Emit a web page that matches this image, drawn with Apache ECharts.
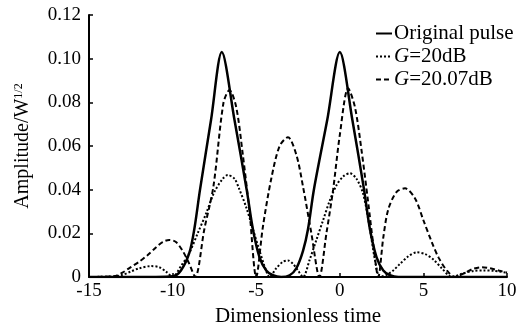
<!DOCTYPE html>
<html>
<head>
<meta charset="utf-8">
<script src="https://cdn.jsdelivr.net/npm/echarts@6/dist/echarts.min.js"></script>
<style>
  html, body { margin: 0; padding: 0; background: #fff; }
  #chart { width: 525px; height: 325px; }
</style>
</head>
<body>
<div id="chart"></div>
<script>
// x ticks / y ticks
const xTicks = [-15, -10, -5, 0, 5, 10];
const yTickLabels = ['0', '0.02', '0.04', '0.06', '0.08', '0.10', '0.12'];

// [dimensionless time, amplitude]
const originalPulse = [
  [-15, 0], [-11, 0], [-10, 0.0003], [-9.5, 0.003], [-9, 0.011], [-8.7, 0.022],
  [-8.36, 0.04], [-7.7, 0.072], [-7.06, 0.103], [-6.3, 0.072], [-5.57, 0.04],
  [-5.2, 0.022], [-4.8, 0.009], [-4.4, 0.003], [-4, 0.0008], [-3.5, 0],
  [-3, 0.0008], [-2.6, 0.004], [-2.2, 0.012], [-1.9, 0.022], [-1.55, 0.04],
  [-0.75, 0.072], [0, 0.103], [0.75, 0.072], [1.45, 0.04], [1.8, 0.022],
  [2.2, 0.009], [2.6, 0.003], [3, 0.0008], [3.5, 0], [10, 0]
];
const gain20 = [
  [-15, 0], [-13.5, 0.0003], [-13, 0.001], [-12.5, 0.0025], [-12, 0.004],
  [-11.3, 0.005], [-10.8, 0.0045], [-10.4, 0.0025], [-10, 0], [-9.5, 0.005],
  [-9, 0.011], [-8.5, 0.02], [-8, 0.029], [-7.5, 0.039], [-7, 0.045],
  [-6.7, 0.0467], [-6.3, 0.045], [-6, 0.04], [-5.6, 0.032], [-5.2, 0.022],
  [-4.8, 0.012], [-4.5, 0.005], [-4.2, 0], [-3.8, 0.004], [-3.4, 0.007],
  [-3.1, 0.0076], [-2.8, 0.006], [-2.5, 0.003], [-2.2, 0], [-1.8, 0.008],
  [-1.4, 0.017], [-1, 0.026], [-0.6, 0.035], [-0.2, 0.042], [0.2, 0.046],
  [0.6, 0.0475], [1, 0.045], [1.4, 0.038], [1.8, 0.022], [2.1, 0.008],
  [2.4, 0], [2.8, 0.001], [3.2, 0.003], [3.6, 0.006], [4.1, 0.0095],
  [4.6, 0.0113], [5.1, 0.0105], [5.6, 0.008], [6.1, 0.004], [6.7, 0],
  [7.3, 0.0015], [8, 0.0028], [8.6, 0.003], [9.2, 0.0028], [10, 0.002]
];
const gain2007 = [
  [-15, 0], [-13.5, 0.0003], [-13, 0.002], [-12.5, 0.0045], [-12, 0.007],
  [-11.5, 0.01], [-11, 0.0135], [-10.6, 0.016], [-10.2, 0.017], [-9.8, 0.016],
  [-9.4, 0.012], [-9, 0.006], [-8.65, 0], [-8.1, 0.022], [-7.56, 0.0414],
  [-6.96, 0.0797], [-6.6, 0.0856], [-6.2, 0.078], [-5.8, 0.056], [-5.4, 0.03],
  [-5, 0], [-4.6, 0.023], [-4.1, 0.045], [-3.6, 0.06], [-3.1, 0.064],
  [-2.6, 0.056], [-2.2, 0.0414], [-1.7, 0.02], [-1.22, 0], [-0.8, 0.02],
  [-0.4, 0.04], [0, 0.065], [0.5, 0.0864], [0.9, 0.078], [1.3, 0.058],
  [1.7, 0.034], [2, 0.015], [2.3, 0], [2.6, 0.018], [2.9, 0.031],
  [3.4, 0.039], [3.9, 0.0406], [4.5, 0.036], [5, 0.026], [5.5, 0.016],
  [5.9, 0.009], [6.4, 0.003], [6.9, 0], [7.5, 0.002], [8, 0.0038],
  [8.5, 0.0045], [9, 0.004], [9.5, 0.003], [10, 0.002]
];

const font = 'Liberation Serif';
const chart = echarts.init(document.getElementById('chart'), null, { renderer: 'canvas' });

const option = {
  backgroundColor: '#fff',
  animation: false,
  grid: { left: 89, right: 18, top: 15, bottom: 48, containLabel: false, outerBoundsMode: 'none' },
  legend: {
    orient: 'vertical',
    left: 370,
    top: 18,
    itemWidth: 16,
    itemHeight: 10,
    itemGap: 2,
    itemStyle: { opacity: 0, borderWidth: 0 },
    textStyle: {
      fontFamily: font,
      fontSize: 21,
      color: '#000',
      padding: [0, 0, 0, -3],
      rich: {
        i: { fontFamily: font, fontSize: 21, fontStyle: 'italic', color: '#000' }
      }
    },
    formatter: (name) => name.replace(/^G/, '{i|G}'),
    data: ['Original pulse', 'G=20dB', 'G=20.07dB']
  },
  xAxis: {
    type: 'value',
    min: -15,
    max: 10,
    interval: 5,
    name: 'Dimensionless time',
    nameLocation: 'middle',
    nameGap: 27,
    nameTextStyle: { fontFamily: font, fontSize: 21, color: '#000' },
    axisLine: { onZero: false, lineStyle: { color: '#000', width: 2 } },
    axisTick: { inside: true, length: 4, lineStyle: { color: '#000', width: 1.5 } },
    axisLabel: { fontFamily: font, fontSize: 19, color: '#000', margin: 5 },
    splitLine: { show: false }
  },
  yAxis: {
    type: 'value',
    min: 0,
    max: 0.12,
    interval: 0.02,
    name: 'Amplitude/W{s|1/2}',
    nameLocation: 'middle',
    nameGap: 56,
    nameRotate: 90,
    nameTextStyle: {
      fontFamily: font, fontSize: 20, color: '#000',
      rich: { s: { fontFamily: font, fontSize: 12, color: '#000', verticalAlign: 'top', padding: [0, 0, 8, 0] } }
    },
    axisLine: { show: true, onZero: false, lineStyle: { color: '#000', width: 2 } },
    axisTick: { show: true, inside: true, length: 4, lineStyle: { color: '#000', width: 1.5 } },
    axisLabel: {
      fontFamily: font, fontSize: 19, color: '#000', margin: 8,
      formatter: (v) => yTickLabels[Math.round(v / 0.02)]
    },
    splitLine: { show: false }
  },
  series: [
    {
      name: 'Original pulse', type: 'line', data: originalPulse,
      symbol: 'none', smooth: 0.3, color: '#000',
      lineStyle: { color: '#000', width: 2.5, type: 'solid' }
    },
    {
      name: 'G=20dB', type: 'line', data: gain20,
      symbol: 'none', smooth: 0.3, color: '#000',
      lineStyle: { color: '#000', width: 2, type: [2, 2] }
    },
    {
      name: 'G=20.07dB', type: 'line', data: gain2007,
      symbol: 'none', smooth: 0.3, color: '#000',
      lineStyle: { color: '#000', width: 2, type: [5, 3] }
    }
  ]
};

chart.setOption(option);
</script>
</body>
</html>
